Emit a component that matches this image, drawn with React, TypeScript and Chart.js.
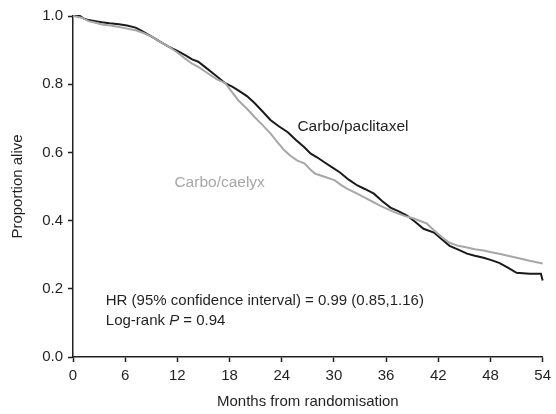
import { useEffect, useRef } from "react";
import { Chart, registerables } from "chart.js";

Chart.register(...registerables);

// ---- Data ----
const xTickValues = [0, 6, 12, 18, 24, 30, 36, 42, 48, 54];
const yTickValues = [0, 0.2, 0.4, 0.6, 0.8, 1.0];

const paclitaxelMonths = [
  0, 0.8, 1.2, 1.8, 2.6, 3.3, 4.2, 5.3, 6.2, 7.2, 8.0, 9.0, 10.0, 11.0, 12.0, 12.9,
  13.7, 14.4, 15.2, 16.2, 17.5, 18.3, 19.0, 20.0, 20.9, 21.8, 22.7, 23.7, 24.7, 25.6,
  26.6, 27.3, 28.1, 28.9, 29.8, 30.7, 31.7, 32.7, 33.6, 34.6, 35.5, 36.5, 37.4, 38.4,
  39.4, 40.3, 41.5, 42.4, 43.3, 44.3, 45.3, 46.2, 47.2, 48.1, 49.0, 50.0, 51.0, 52.5,
  53.8, 54.0,
];
const paclitaxelSurvival = [
  1.0, 1.0, 0.993, 0.988, 0.985, 0.982, 0.979, 0.976, 0.972, 0.966, 0.955, 0.94, 0.925,
  0.91, 0.898, 0.885, 0.873, 0.866, 0.85, 0.83, 0.803, 0.793, 0.782, 0.765, 0.744, 0.72,
  0.695, 0.676, 0.659, 0.637, 0.615, 0.597, 0.585, 0.571, 0.556, 0.541, 0.52, 0.503,
  0.492, 0.479, 0.458, 0.438, 0.428, 0.415, 0.395, 0.376, 0.365, 0.345, 0.326, 0.315,
  0.303, 0.297, 0.291, 0.284, 0.276, 0.262, 0.247, 0.244, 0.244, 0.224,
];

const caelyxMonths = [
  0, 1.0, 1.8, 2.6, 3.3, 4.3, 5.3, 6.2, 7.2, 8.1, 9.0, 10.0, 11.0, 12.0, 12.9, 13.7,
  14.4, 15.5, 16.5, 17.5, 18.2, 19.0, 20.0, 20.9, 21.8, 22.7, 23.5, 24.3, 25.0, 25.8,
  26.6, 27.2, 27.8, 29.0, 30.1, 30.8, 31.5, 32.5, 33.5, 34.4, 35.3, 36.3, 37.3, 38.2,
  39.2, 40.0, 40.7, 41.5, 42.4, 43.3, 44.3, 45.3, 46.2, 47.2, 48.1, 49.0, 50.0, 51.0,
  52.5, 54.0,
];
const caelyxSurvival = [
  1.0, 0.995, 0.985, 0.98, 0.975, 0.972, 0.968, 0.963, 0.958, 0.95, 0.94, 0.925, 0.91,
  0.893, 0.875, 0.86, 0.851, 0.832, 0.815, 0.803, 0.78, 0.753, 0.728, 0.703, 0.68, 0.656,
  0.63, 0.606, 0.59, 0.576, 0.568, 0.552, 0.538, 0.528, 0.518, 0.505, 0.494, 0.481,
  0.468, 0.456, 0.444, 0.432, 0.421, 0.413, 0.406, 0.398, 0.391, 0.372, 0.352, 0.335,
  0.326, 0.321, 0.316, 0.312, 0.307, 0.303, 0.297, 0.291, 0.282, 0.274,
];

const FONT = "'Liberation Sans', Arial, Helvetica, sans-serif";
const DARK = "#231f20";
const GREY = "#a7a7a7";

type Note = { parts: { text: string; italic?: boolean }[]; month: number; value: number; color: string; size: number };

const notes: Note[] = [
  { parts: [{ text: "Carbo/paclitaxel" }], month: 25.8, value: 0.674, color: DARK, size: 15.5 },
  { parts: [{ text: "Carbo/caelyx" }], month: 11.66, value: 0.511, color: GREY, size: 15.5 },
  {
    parts: [{ text: "HR (95% confidence interval) = 0.99 (0.85,1.16)" }],
    month: 3.77,
    value: 0.164,
    color: DARK,
    size: 15,
  },
  {
    parts: [{ text: "Log-rank " }, { text: "P", italic: true }, { text: " = 0.94" }],
    month: 3.77,
    value: 0.107,
    color: DARK,
    size: 15,
  },
];

const notesPlugin = {
  id: "notes",
  afterDatasetsDraw(chart: any) {
    const { ctx, scales } = chart;
    ctx.save();
    ctx.textBaseline = "middle";
    ctx.textAlign = "left";
    for (const n of notes) {
      let x = scales.x.getPixelForValue(n.month);
      const y = scales.y.getPixelForValue(n.value);
      ctx.fillStyle = n.color;
      for (const p of n.parts) {
        ctx.font = `${p.italic ? "italic " : ""}${n.size}px ${FONT}`;
        ctx.fillText(p.text, x, y);
        x += ctx.measureText(p.text).width;
      }
    }
    ctx.restore();
  },
};

export default function App() {
  const canvasRef = useRef<HTMLCanvasElement | null>(null);

  useEffect(() => {
    document.body.style.margin = "0";
    const canvas = canvasRef.current;
    if (!canvas) return;
    const chart = new Chart(canvas, {
      type: "line",
      data: {
        datasets: [
          {
            label: "Carbo/caelyx",
            data: caelyxMonths.map((m, i) => ({ x: m, y: caelyxSurvival[i] })),
            borderColor: GREY,
            borderWidth: 2,
            pointRadius: 0,
            tension: 0,
            fill: false,
            clip: 3,
          },
          {
            label: "Carbo/paclitaxel",
            data: paclitaxelMonths.map((m, i) => ({ x: m, y: paclitaxelSurvival[i] })),
            borderColor: "#1a1a1a",
            borderWidth: 2,
            pointRadius: 0,
            tension: 0,
            fill: false,
            clip: 3,
          },
        ],
      },
      options: {
        responsive: false,
        animation: false,
        events: [],
        layout: { padding: { left: 0, right: 9, top: 16, bottom: 0 } },
        plugins: {
          legend: { display: false },
          tooltip: { enabled: false },
          title: { display: false },
        },
        scales: {
          x: {
            type: "linear",
            min: 0,
            max: 54,
            afterBuildTicks: (scale: any) => {
              scale.ticks = xTickValues.map((v) => ({ value: v }));
            },
            afterFit: (scale: any) => {
              scale.height = 57;
            },
            ticks: {
              color: DARK,
              font: { family: FONT, size: 15 },
              padding: 5,
              maxRotation: 0,
              autoSkip: false,
              callback: (v: any) => String(v),
            },
            grid: {
              display: true,
              drawOnChartArea: false,
              drawTicks: true,
              tickLength: 5,
              tickWidth: 1.5,
              color: DARK,
            },
            border: { display: true, color: DARK, width: 1.5 },
            title: {
              display: true,
              text: "Months from randomisation",
              color: DARK,
              font: { family: FONT, size: 15 },
              padding: { top: 0, bottom: 3 },
            },
          },
          y: {
            type: "linear",
            min: 0,
            max: 1,
            afterBuildTicks: (scale: any) => {
              scale.ticks = yTickValues.map((v) => ({ value: v }));
            },
            afterFit: (scale: any) => {
              scale.width = 73;
            },
            ticks: {
              color: DARK,
              font: { family: FONT, size: 15 },
              padding: 5,
              autoSkip: false,
              callback: (v: any) => Number(v).toFixed(1),
            },
            grid: {
              display: true,
              drawOnChartArea: false,
              drawTicks: true,
              tickLength: 5,
              tickWidth: 1.5,
              color: DARK,
            },
            border: { display: true, color: DARK, width: 1.5 },
            title: {
              display: true,
              text: "Proportion alive",
              color: DARK,
              font: { family: FONT, size: 15 },
              padding: { top: 9, bottom: 0 },
            },
          },
        },
      },
      plugins: [notesPlugin],
    } as any);
    return () => chart.destroy();
  }, []);

  return (
    <div style={{ position: "absolute", left: 0, top: 0, width: 556, height: 414, background: "#fff" }}>
      <canvas ref={canvasRef} width={556} height={414} style={{ display: "block" }} />
    </div>
  );
}
